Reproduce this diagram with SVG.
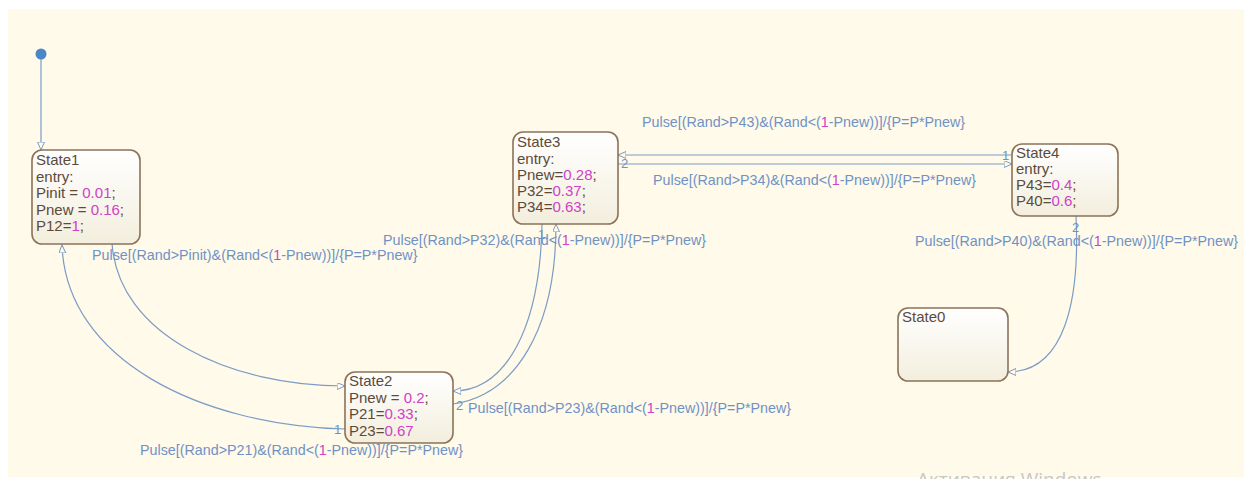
<svg xmlns="http://www.w3.org/2000/svg" width="1250" height="479" viewBox="0 0 1250 479">
<defs>
<linearGradient id="sg" x1="0" y1="0" x2="0" y2="1">
<stop offset="0" stop-color="#FFFFFF"/>
<stop offset="1" stop-color="#F3EEDD"/>
</linearGradient>
<marker id="ah" markerUnits="userSpaceOnUse" markerWidth="10" markerHeight="8" refX="8" refY="3.5" orient="auto">
<path d="M0,0 L8,3.5 L0,7 z" fill="#FFFAE9" stroke="#7A9CC6" stroke-width="1"/>
</marker>
<style>
.st{fill:url(#sg);stroke:#8C7358;stroke-width:1.6}
.tx{font-family:"Liberation Sans",Arial,sans-serif;font-size:15px;fill:#5C4B3B}
.num{fill:#D040C8}
.lb{font-family:"Liberation Sans",Arial,sans-serif;font-size:14.3px;fill:#6F92C6}
.ln{fill:#6F92C6;font-family:"Liberation Sans",Arial,sans-serif;font-size:13px}
.cn{fill:none;stroke:#7A9CC6;stroke-width:1.2}
.wm{font-family:"Open Sans","Liberation Sans",sans-serif;font-size:19px;fill:#C9C7C0}
</style>
</defs>
<rect x="0" y="0" width="1250" height="479" fill="#FFFFFF"/>
<rect x="8" y="9" width="1236" height="468" fill="#FFFAE9"/>

<g id="connectors">
<circle cx="41" cy="54" r="5.5" fill="#4A86C8"/>
<path class="cn" d="M41,59 L41,150" marker-end="url(#ah)"/>
<path class="cn" d="M112,243 C118,335 230,386 345,386" marker-end="url(#ah)"/>
<path class="cn" d="M345,429 C200,425 66,360 62,245" marker-end="url(#ah)"/>
<path class="cn" d="M542,224 C540,330 505,391 453,391" marker-end="url(#ah)"/>
<path class="cn" d="M453,404 C515,395 556,330 556,224" marker-end="url(#ah)"/>
<path class="cn" d="M1012,155 L618,155" marker-end="url(#ah)"/>
<path class="cn" d="M618,164 L1012,164" marker-end="url(#ah)"/>
<path class="cn" d="M1076,216 C1080,300 1065,372 1008,372" marker-end="url(#ah)"/>

<text class="lb" x="92" y="260">Pulse[(Rand&gt;Pinit)&amp;(Rand&lt;(<tspan class="num">1</tspan>-Pnew))]/{P=P*Pnew}</text>
<text class="lb" x="140" y="455">Pulse[(Rand&gt;P21)&amp;(Rand&lt;(<tspan class="num">1</tspan>-Pnew))]/{P=P*Pnew}</text>
<text class="lb" x="383" y="245">Pulse[(Rand&gt;P32)&amp;(Rand&lt;(<tspan class="num">1</tspan>-Pnew))]/{P=P*Pnew}</text>
<text class="lb" x="468" y="413">Pulse[(Rand&gt;P23)&amp;(Rand&lt;(<tspan class="num">1</tspan>-Pnew))]/{P=P*Pnew}</text>
<text class="lb" x="642" y="127">Pulse[(Rand&gt;P43)&amp;(Rand&lt;(<tspan class="num">1</tspan>-Pnew))]/{P=P*Pnew}</text>
<text class="lb" x="653" y="185">Pulse[(Rand&gt;P34)&amp;(Rand&lt;(<tspan class="num">1</tspan>-Pnew))]/{P=P*Pnew}</text>
<text class="lb" x="915" y="246">Pulse[(Rand&gt;P40)&amp;(Rand&lt;(<tspan class="num">1</tspan>-Pnew))]/{P=P*Pnew}</text>

<text class="ln" x="334" y="434">1</text>
<text class="ln" x="456" y="410">2</text>
<text class="ln" x="538" y="239">1</text>
<text class="ln" x="621" y="168">2</text>
<text class="ln" x="1002" y="160">1</text>
<text class="ln" x="1072" y="232">2</text>
</g>

<g id="State1">
<rect class="st" x="32" y="150" width="108" height="94" rx="10"/>
<text class="tx" x="36" y="165">State1</text>
<text class="tx" x="36" y="182">entry:</text>
<text class="tx" x="36" y="198">Pinit = <tspan class="num">0.01</tspan>;</text>
<text class="tx" x="36" y="215">Pnew = <tspan class="num">0.16</tspan>;</text>
<text class="tx" x="36" y="231">P12=<tspan class="num">1</tspan>;</text>
</g>

<g id="State3">
<rect class="st" x="513" y="132" width="105" height="92" rx="10"/>
<text class="tx" x="517" y="147">State3</text>
<text class="tx" x="517" y="164">entry:</text>
<text class="tx" x="517" y="180">Pnew=<tspan class="num">0.28</tspan>;</text>
<text class="tx" x="517" y="196">P32=<tspan class="num">0.37</tspan>;</text>
<text class="tx" x="517" y="212">P34=<tspan class="num">0.63</tspan>;</text>
</g>

<g id="State4">
<rect class="st" x="1012" y="144" width="106" height="72" rx="10"/>
<text class="tx" x="1016" y="158">State4</text>
<text class="tx" x="1016" y="174">entry:</text>
<text class="tx" x="1016" y="190">P43=<tspan class="num">0.4</tspan>;</text>
<text class="tx" x="1016" y="206">P40=<tspan class="num">0.6</tspan>;</text>
</g>

<g id="State2">
<rect class="st" x="345" y="372" width="108" height="71" rx="10"/>
<text class="tx" x="349" y="386">State2</text>
<text class="tx" x="349" y="403">Pnew = <tspan class="num">0.2</tspan>;</text>
<text class="tx" x="349" y="419">P21=<tspan class="num">0.33</tspan>;</text>
<text class="tx" x="349" y="436">P23=<tspan class="num">0.67</tspan></text>
</g>

<g id="State0">
<rect class="st" x="898" y="308" width="110" height="73" rx="10"/>
<text class="tx" x="902" y="322">State0</text>
</g>

<text class="wm" x="917" y="486">Активация Windows</text>
</svg>
